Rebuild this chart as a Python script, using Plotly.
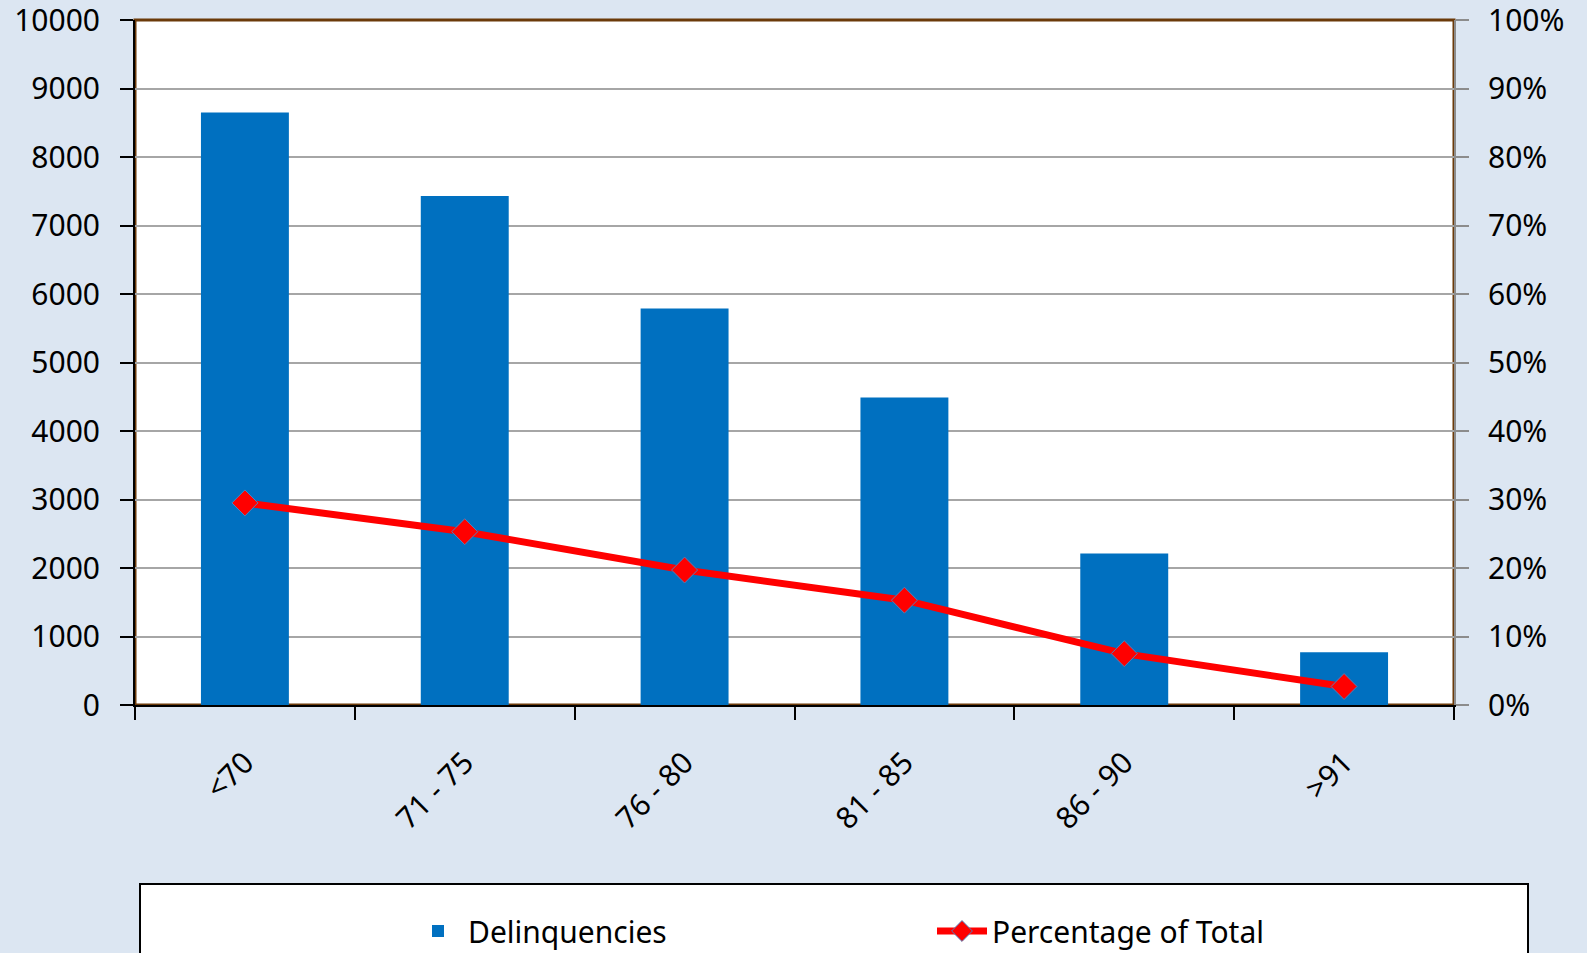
import plotly.graph_objects as go

categories = ["<70", "71 - 75", "76 - 80", "81 - 85", "86 - 90", ">91"]
delinquencies = [8650, 7430, 5790, 4490, 2210, 770]
pct_of_total = [29.5, 25.3, 19.7, 15.3, 7.5, 2.7]

y_ticks = [0, 1000, 2000, 3000, 4000, 5000, 6000, 7000, 8000, 9000, 10000]
y_labels = [str(v) for v in y_ticks]
y2_ticks = [0, 10, 20, 30, 40, 50, 60, 70, 80, 90, 100]
y2_labels = [f"{v}%" for v in y2_ticks]

FONT = "Noto Sans"
W, H = 1587, 953
L, R, T, B = 135, 133, 20, 248
pw, ph = W - L - R, H - T - B

def px_x(x):
    return (x - L) / pw

def px_y(y):
    return (H - B - y) / ph

fig = go.Figure()
fig.add_trace(go.Bar(
    x=categories, y=delinquencies, name="Delinquencies",
    marker=dict(color="#0070c0", line=dict(width=0)), width=0.4,
))
fig.add_trace(go.Scatter(
    x=categories, y=pct_of_total, name="Percentage of Total", yaxis="y2",
    mode="lines+markers",
    line=dict(color="#ff0000", width=7),
    marker=dict(symbol="diamond", size=20, color="#ff0000",
                line=dict(color="#4f81bd", width=1)),
))

fig.update_layout(
    width=W, height=H,
    margin=dict(l=L, r=R, t=T, b=B, autoexpand=False),
    paper_bgcolor="#dce6f2", plot_bgcolor="#ffffff",
    font=dict(family=FONT, size=30, color="#000000"),
    showlegend=True,
    legend=dict(orientation="h", x=px_x(408), xanchor="left",
                y=px_y(931), yanchor="middle",
                bgcolor="rgba(0,0,0,0)", font=dict(family=FONT, size=30),
                entrywidth=459, itemwidth=50, itemsizing="trace"),
    xaxis=dict(type="category", tickson="boundaries", ticks="outside",
               ticklen=13, tickcolor="#000000", tickwidth=2,
               showline=True, linecolor="#000000", linewidth=2,
               tickangle=-45, showgrid=False, ticklabelstandoff=26,
               tickfont=dict(size=30)),
    yaxis=dict(range=[0, 10000], tickvals=y_ticks, ticktext=y_labels,
               ticks="outside",
               ticklen=13, tickcolor="#000000", tickwidth=2,
               showline=True, linecolor="#000000", linewidth=2,
               showgrid=True, gridcolor="#a6a6a6", gridwidth=2,
               zeroline=False, ticklabelstandoff=14,
               ticklabeloverflow="allow", tickfont=dict(size=30)),
    yaxis2=dict(range=[0, 100], tickvals=y2_ticks, ticktext=y2_labels,
                overlaying="y", side="right", ticks="outside",
                ticklen=13, tickcolor="#8c8c8c", tickwidth=2,
                showline=True, linecolor="#8c8c8c", linewidth=2,
                showgrid=False, zeroline=False, ticklabelstandoff=13,
                ticklabeloverflow="allow", tickfont=dict(size=30)),
    shapes=[
        dict(type="rect", xref="paper", yref="paper", x0=0, x1=1, y0=0, y1=1,
             line=dict(color="#6b3a0a", width=3), layer="below"),
        dict(type="rect", xref="paper", yref="paper",
             x0=px_x(140), x1=px_x(1528), y0=px_y(1000), y1=px_y(884),
             line=dict(color="#000000", width=2), fillcolor="#ffffff",
             layer="below"),
    ],
)

fig.write_html(
    "out.html",
    config={"displayModeBar": False},
    post_script="document.body.style.margin='0';document.body.style.overflow='hidden';",
)
